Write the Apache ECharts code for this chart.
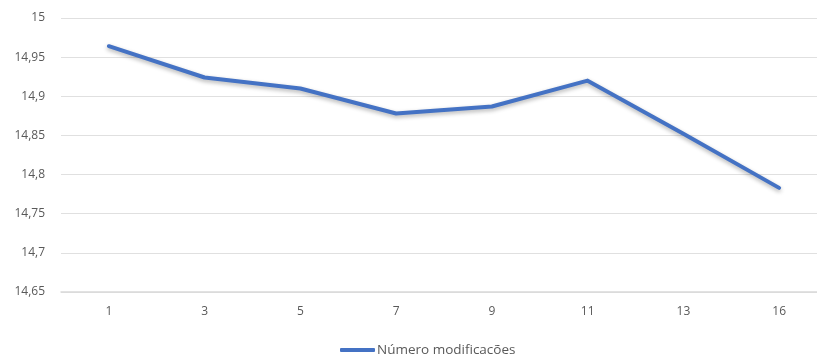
<!DOCTYPE html>
<html>
<head>
<meta charset="utf-8">
<script src="https://cdn.jsdelivr.net/npm/echarts@6/dist/echarts.min.js"></script>
<style>
  html, body { margin: 0; padding: 0; background: #fff; overflow: hidden; }
  #chart { width: 827px; height: 354px; }
</style>
</head>
<body>
<div id="chart"></div>
<script>
// Number of modifications vs. measured value
const categories = ['1', '3', '5', '7', '9', '11', '13', '16'];
const values = [14.964, 14.924, 14.910, 14.878, 14.887, 14.920, 14.852, 14.783];
const seriesName = 'Número modificações';

const yMin = 14.65, yMax = 15, yStep = 0.05;
const labelColor = '#595959';
const fontFamily = '"Open Sans", "Noto Sans", "Liberation Sans", sans-serif';

function fmt(v) {
  return String(parseFloat(v.toFixed(2))).replace('.', ',');
}

const chart = echarts.init(document.getElementById('chart'), null, { renderer: 'canvas' });
chart.setOption({
  animation: false,
  grid: { left: 61, top: 18, right: 0, height: 274, containLabel: false },
  legend: {
    left: 335,
    top: 338,
    itemWidth: 35,
    itemHeight: 4,
    itemGap: 10,
    icon: 'roundRect',
    textStyle: { color: labelColor, fontSize: 13.5, fontFamily: fontFamily, padding: [0, 0, 0, -3] },
    data: [seriesName]
  },
  xAxis: {
    type: 'category',
    data: categories,
    boundaryGap: true,
    axisLine: { lineStyle: { color: '#d9d9d9', width: 1.5 } },
    axisTick: { show: false },
    axisLabel: { color: labelColor, fontSize: 12, fontFamily: fontFamily, margin: 14 }
  },
  yAxis: {
    type: 'value',
    min: yMin,
    max: yMax,
    interval: yStep,
    axisLine: { show: false },
    axisTick: { show: false },
    splitLine: { lineStyle: { color: '#e0e0e0', width: 1 } },
    axisLabel: { color: labelColor, fontSize: 12, fontFamily: fontFamily, margin: 16, formatter: fmt }
  },
  series: [{
    name: seriesName,
    type: 'line',
    data: values,
    symbol: 'none',
    color: '#4472C4',
    lineStyle: {
      color: '#4472C4',
      width: 4,
      cap: 'round',
      join: 'round',
      shadowColor: 'rgba(0,0,0,0.3)',
      shadowBlur: 4,
      shadowOffsetY: 2
    }
  }]
});
</script>
</body>
</html>
